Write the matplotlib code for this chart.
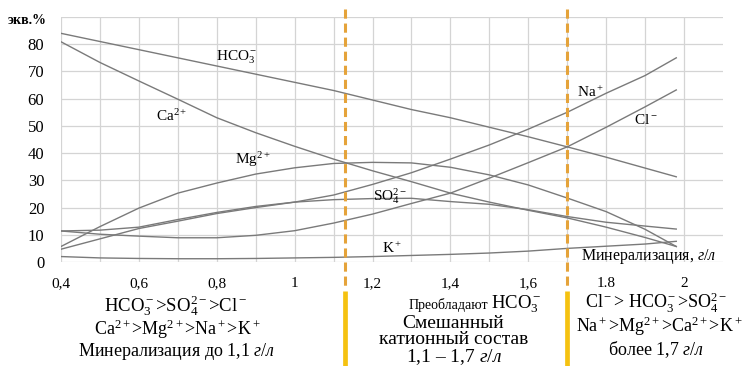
import numpy as np
import matplotlib
matplotlib.use('Agg')
from matplotlib import pyplot as plt
from matplotlib import transforms

plt.rcParams['font.family'] = 'Liberation Serif'
plt.rcParams['mathtext.fontset'] = 'custom'
plt.rcParams['mathtext.rm'] = 'Liberation Serif'
plt.rcParams['mathtext.it'] = 'Liberation Serif:italic'
plt.rcParams['mathtext.bf'] = 'Liberation Serif:bold'

# mineralization, g/l
mineral = [0.4, 0.5, 0.6, 0.7, 0.8, 0.9, 1.0, 1.1, 1.2, 1.3, 1.4, 1.5, 1.6, 1.7, 1.8, 1.9, 1.98]

# ion content, eq.%
hco3 = [84, 81, 78, 75, 72, 69, 66, 63, 59.5, 56, 53, 49.5, 46, 42.3, 38.5, 34.5, 31.3]
ca = [80.9, 73.3, 66.5, 59.8, 53, 47.5, 42.5, 37.8, 33.5, 29.5, 25.3, 22, 19, 16.2, 12.8, 9, 5.7]
mg = [5.7, 13, 19.8, 25.3, 29, 32.3, 34.6, 36.2, 36.6, 36.4, 34.8, 32, 28.3, 23.5, 18.5, 12, 5.7]
na = [4.7, 8.5, 12.3, 15, 17.8, 20, 22, 24.6, 28.5, 32.8, 37.8, 43, 48.8, 55, 62, 68.5, 75]
so4 = [11.4, 11.7, 12.8, 15.6, 18.2, 20.4, 22, 22.9, 23.3, 23.4, 22.2, 21.2, 19.2, 16.7, 14.6, 13.2, 12.1]
cl = [11.4, 10.2, 9.5, 8.9, 8.9, 9.8, 11.5, 14.3, 17.6, 21.5, 25.3, 30.8, 36.5, 42.3, 49.5, 57, 63.2]
k = [2.0, 1.5, 1.3, 1.2, 1.2, 1.3, 1.5, 1.7, 2.0, 2.4, 2.8, 3.3, 4.0, 5.0, 5.8, 6.6, 7.6]

series = [hco3, ca, mg, na, so4, cl, k]

# boundaries between water types
bounds = [1.13, 1.7]

xlabels = ['0,4', '0,6', '0,8', '1', '1,2', '1,4', '1,6', '1.8', '2']
ylabels = ['0', '10', '20', '30', '40', '50', '60', '70', '80', '']

W, H = 747, 366
fig = plt.figure(figsize=(W / 100, H / 100), dpi=100)
ax = fig.add_axes([61 / W, 1 - 262 / H, (723 - 61) / W, (262 - 17) / H])

for s in series:
    ax.plot(mineral, s, color='#7a7a7a', lw=1.0, zorder=3)

ax.set_xlim(0.4, 2.1)
ax.set_ylim(0, 90)
ax.set_xticks(np.arange(0.4, 2.01, 0.2))
ax.set_xticks(np.arange(0.5, 2.0, 0.2), minor=True)
ax.set_xticklabels(xlabels, fontsize=11)
ax.set_yticks(np.arange(0, 91, 10))
ax.set_yticklabels(ylabels, fontsize=12)
ax.tick_params(which='both', length=0)
ax.tick_params(axis='x', pad=11)
ax.tick_params(axis='y', pad=12)
ax.grid(which='both', color='#d4d4d4', lw=0.9, zorder=0)
for sp in ax.spines.values():
    sp.set_visible(False)

# ion labels
lab = dict(fontsize=11, ha='center', va='center', zorder=4)
ax.text(0.851, 75.2, r'HCO$_3^-$', **lab)
ax.text(0.685, 53.5, r'Ca$^{2+}$', **lab)
ax.text(0.892, 37.8, r'Mg$^{2+}$', **lab)
ax.text(1.245, 24.2, r'SO$_4^{2-}$', **lab)
ax.text(1.249, 5.0, r'K$^+$', **lab)
ax.text(1.759, 62.3, r'Na$^+$', **lab)
ax.text(1.903, 52.0, r'Cl$^-$', **lab)
ax.text(1.735, 2.0, r'Минерализация, $\mathit{г/л}$', fontsize=11.5,
        ha='left', va='center')

fig.text(8 / W, 1 - 20 / H, 'экв.%', fontsize=10, fontweight='bold',
         ha='left', va='center')

# boundary lines: dashed over the chart, solid under it
trans = transforms.blended_transform_factory(ax.transData, fig.transFigure)
for b in bounds:
    ax.plot([b, b], [1 - 9 / H, 1 - 290 / H], transform=trans, color='#e5a33a',
            lw=2.2, dashes=(3.0, 1.6), clip_on=False, zorder=5)
    ax.plot([b, b], [1 - 291 / H, 0], transform=trans, color='#f5c211',
            lw=3.4, clip_on=False, zorder=5, solid_capstyle='butt')


def ftext(x, y, s, size=13, ha='center'):
    fig.text(x / W, 1 - y / H, s, fontsize=size, ha=ha, va='center')


ftext(176, 306, r'HCO$_3^-$>SO$_4^{2-}$>Cl$^-$', size=13.5)
ftext(177, 329, r'Ca$^{2+}$>Mg$^{2+}$>Na$^+$>K$^+$')
ftext(176, 352, r'Минерализация до 1,1 $\mathit{г/л}$')

ftext(488, 305, 'Преобладают', size=10, ha='right')
ftext(491, 304, r'HCO$_3^-$', size=13.5, ha='left')
ftext(453, 323, 'Смешанный', size=14)
ftext(454, 340, 'катионный состав', size=14)
ftext(454, 357, r'1,1 – 1,7 $\mathit{г/л}$', size=14)

ftext(656, 303, r'Cl$^-$> HCO$_3^-$>SO$_4^{2-}$')
ftext(659, 326, r'Na$^+$>Mg$^{2+}$>Ca$^{2+}$>K$^+$')
ftext(656, 350, r'более 1,7 $\mathit{г/л}$')

fig.savefig('out.png', dpi=100)
